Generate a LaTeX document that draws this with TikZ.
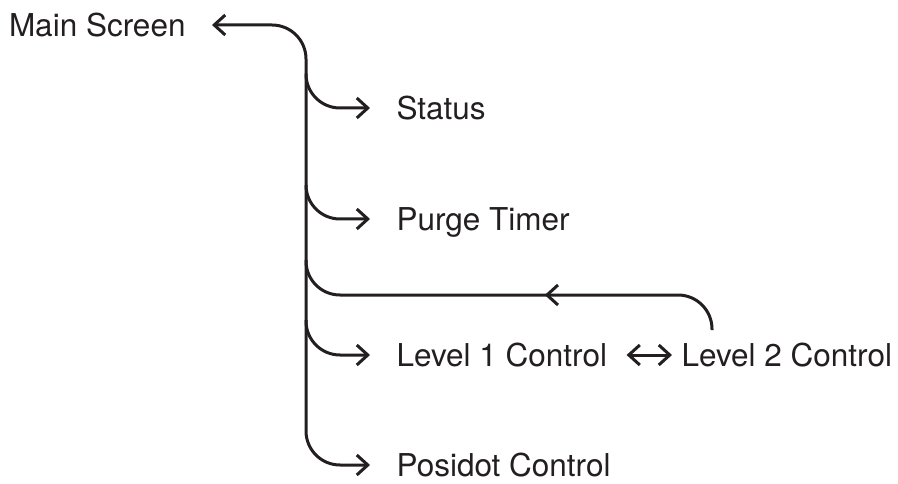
\documentclass[tikz,border=0pt]{standalone}
\usepackage{fontspec}
\setmainfont{TeX Gyre Heros}
\usetikzlibrary{arrows.meta,decorations.markings}
\definecolor{ink}{HTML}{231F20}
\begin{document}
\begin{tikzpicture}[x=1pt, y=-1pt, line width=3pt, color=ink, line join=round,
    font=\fontsize{31.5}{38}\selectfont,
    >={Straight Barb[length=11pt,width=20pt]},
    lbl/.style={inner sep=0pt, text height=22.5pt, text depth=0pt, anchor=west},
    branch/.style={->, rounded corners=34pt, shorten >=25pt}]
    \def\tx{306} % trunk
    \useasboundingbox (0,0) rectangle (898,484);
    \node[lbl, anchor=east] (main) at (187,25) {Main Screen};
    \node[lbl] (status) at (395,108) {Status};
    \node[lbl] (purge) at (395,219) {Purge Timer};
    \node[lbl] (lvl1) at (395,355) {Level 1 Control};
    \node[lbl] (lvl2) at (680,355) {Level 2 Control};
    \node[lbl] (posi) at (395,465) {Posidot Control};
    \coordinate (tmid) at (\tx,250);
    \coordinate (b1) at (\tx,76);
    \coordinate (b2) at (\tx,185);
    \coordinate (b3) at (\tx,260);
    \coordinate (b4) at (\tx,320);
    \coordinate (r1) at (\tx,295);
    \coordinate (ret) at (712,330);
    % trunk
    \draw[<->, rounded corners=34pt, shorten <=25pt, shorten >=25pt] (main.east) -| (tmid) |- (posi.west);
    % branches
    \draw[branch] (b1) |- (status.west);
    \draw[branch] (b2) |- (purge.west);
    \draw[branch] (b4) |- (lvl1.west);
    \draw[<->, shorten <=18pt, shorten >=8pt] (lvl1.east) -- (lvl2.west);
    % back from level 2
    \draw[rounded corners=34pt, postaction={decorate},
        decoration={markings, mark=at position 0.42 with {\arrow{>}}}] (ret) |- (r1) -- (b3);
\end{tikzpicture}
\end{document}
